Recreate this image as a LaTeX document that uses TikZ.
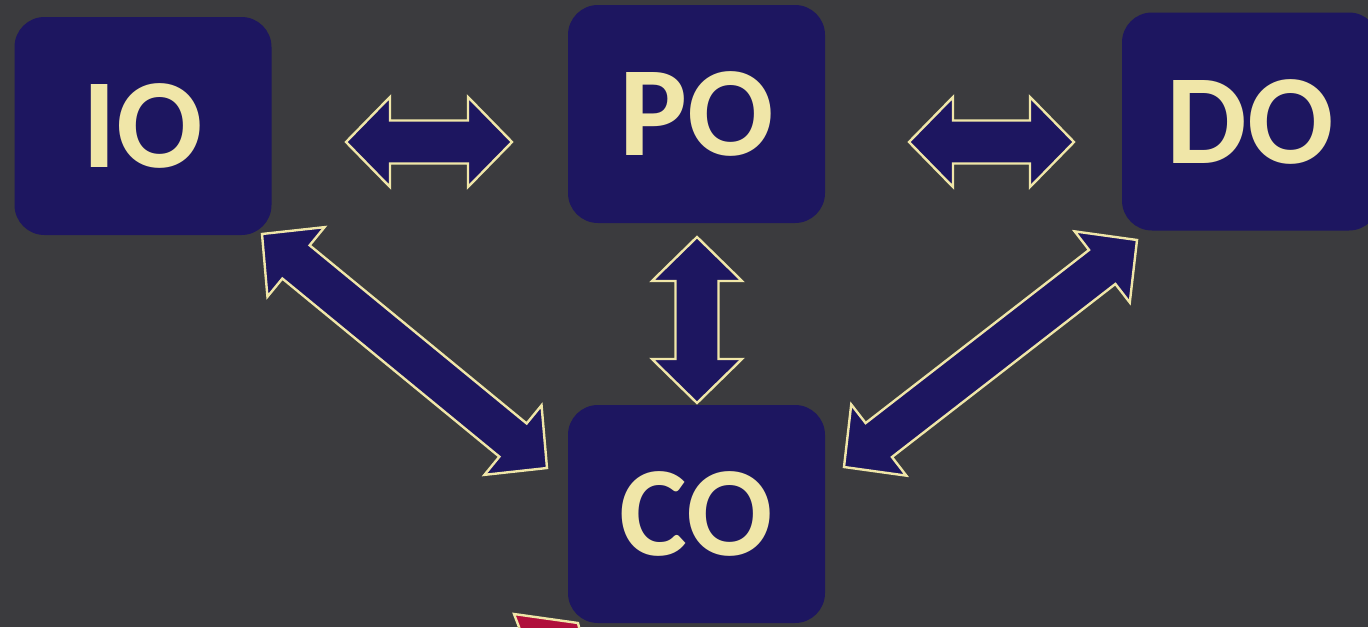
\documentclass[tikz,border=0pt]{standalone}
\usepackage{fontspec}
\setmainfont{Carlito}
\usetikzlibrary{calc}
\definecolor{bgc}{HTML}{3B3B3E}
\definecolor{navy}{HTML}{1D1660}
\definecolor{cream}{HTML}{F0E6A8}
\definecolor{crimson}{HTML}{B00F3C}
\tikzset{
  box/.style={fill=navy, text=cream, rounded corners=30pt, minimum width=257pt,
    minimum height=218pt, inner sep=0pt, font=\fontsize{128}{128}\selectfont\bfseries},
  blockarrow/.style={fill=navy, draw=cream, line width=2.4pt, line join=miter}
}
\newcommand\dblarrow[2]{%
  \filldraw[blockarrow] (#1)
    -- ($(#1)!44pt!(#2)!45pt!90:(#2)$)
    -- ($(#1)!44pt!(#2)!21.5pt!90:(#2)$)
    -- ($(#2)!44pt!(#1)!21.5pt!-90:(#1)$)
    -- ($(#2)!44pt!(#1)!45pt!-90:(#1)$)
    -- (#2)
    -- ($(#2)!44pt!(#1)!45pt!90:(#1)$)
    -- ($(#2)!44pt!(#1)!21.5pt!90:(#1)$)
    -- ($(#1)!44pt!(#2)!21.5pt!-90:(#2)$)
    -- ($(#1)!44pt!(#2)!45pt!-90:(#2)$)
    -- cycle;}
\begin{document}
\begin{tikzpicture}[x=1pt,y=-1pt]
\useasboundingbox (0,0) rectangle (1368,627);
\clip (0,0) rectangle (1368,627);
\fill[bgc] (0,0) rectangle (1368,627);
% partly visible red shape at the bottom
\filldraw[fill=crimson, draw=cream, line width=2.4pt] (514,614) -- (578,623) -- (582,640) -- (524,640) -- cycle;
% boxes
\node[box] (IO) at (143,126) {\raisebox{-2pt}{IO}};
\node[box] (PO) at (696.5,114) {\raisebox{-2pt}{PO}};
\node[box] (DO) at (1250.5,121.5) {\raisebox{-2pt}{DO}};
\node[box] (CO) at (696.5,514) {\raisebox{-2pt}{CO}};
% arrow ends
\coordinate (ipA) at (346,142);
\coordinate (ipB) at (512,142);
\coordinate (pdA) at (909,142);
\coordinate (pdB) at (1074,142);
\coordinate (pcA) at (697,237);
\coordinate (pcB) at (697,403);
\coordinate (icA) at (262,234);
\coordinate (icB) at (547,468);
\coordinate (dcA) at (1137,240);
\coordinate (dcB) at (844,467);
\dblarrow{ipA}{ipB}
\dblarrow{pdA}{pdB}
\dblarrow{pcA}{pcB}
\dblarrow{icA}{icB}
\dblarrow{dcA}{dcB}
\end{tikzpicture}
\end{document}
